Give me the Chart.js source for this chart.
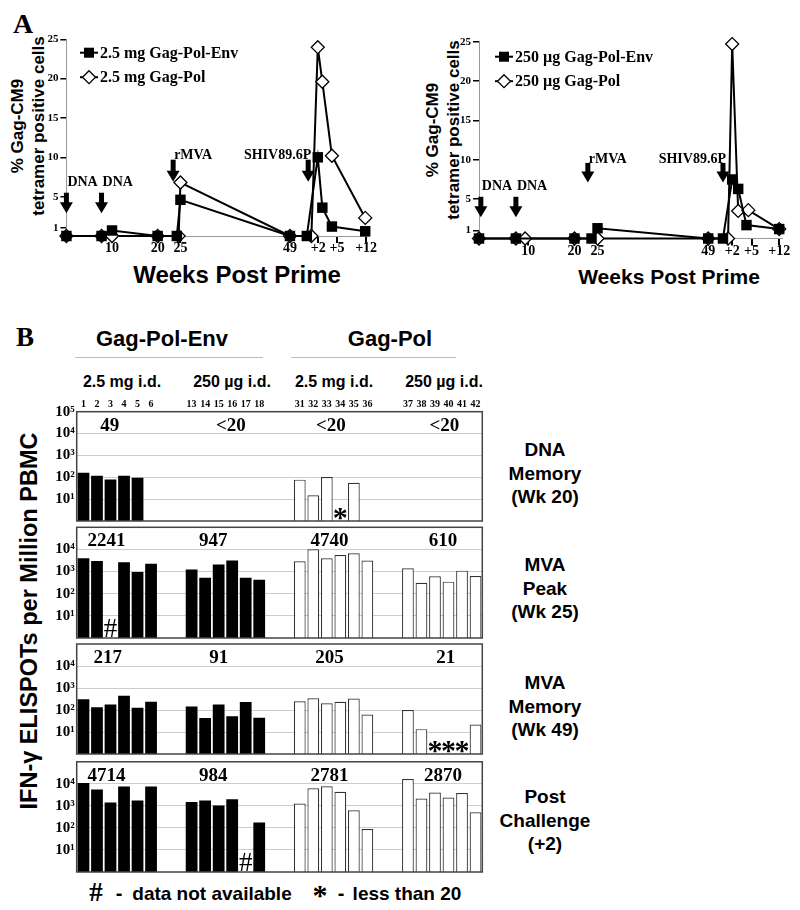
<!DOCTYPE html>
<html>
<head>
<meta charset="utf-8">
<script src="https://cdn.jsdelivr.net/npm/chart.js@4.4.0/dist/chart.umd.min.js"></script>
<style>
  body { margin: 0; background: #fff; width: 800px; height: 910px; position: relative; overflow: hidden;
         font-family: "Liberation Sans", Arial, sans-serif; }
  canvas { position: absolute; }
  .t { position: absolute; white-space: nowrap; font-weight: bold; color: #000; transform: translate(-50%, -50%); text-align: center; }
  .rot { transform: translate(-50%, -50%) rotate(-90deg); }
  .serif { font-family: "Liberation Serif", "Times New Roman", serif; }
  .rule { position: absolute; height: 0; border-top: 1px solid #bbb; }
</style>
</head>
<body>

<div class="t serif" style="left:23px;top:24px;font-size:28px">A</div>
<div class="t rot" style="left:28px;top:126px;font-size:17px;line-height:21px">% Gag-CM9<br>tetramer positive cells</div>
<div class="t rot" style="left:443px;top:130px;font-size:17px;line-height:21px">% Gag-CM9<br>tetramer positive cells</div>
<div class="t" style="left:237px;top:275px;font-size:24px">Weeks Post Prime</div>
<div class="t" style="left:669px;top:277px;font-size:21px">Weeks Post Prime</div>

<div class="t serif" style="left:25px;top:337px;font-size:27px">B</div>
<div class="t" style="left:162px;top:339px;font-size:22px">Gag-Pol-Env</div>
<div class="t" style="left:390px;top:339px;font-size:22px">Gag-Pol</div>
<div class="rule" style="left:75px;top:357px;width:188px"></div>
<div class="rule" style="left:291px;top:357px;width:165px"></div>
<div class="t" style="left:122px;top:382px;font-size:16px">2.5 mg i.d.</div>
<div class="t" style="left:232px;top:382px;font-size:16px">250 µg i.d.</div>
<div class="t" style="left:334px;top:382px;font-size:16px">2.5 mg i.d.</div>
<div class="t" style="left:444px;top:382px;font-size:16px">250 µg i.d.</div>

<div class="t rot" style="left:29px;top:621px;font-size:23.5px;line-height:24px">IFN-γ ELISPOTs per Million PBMC</div>

<div class="t" style="left:545px;top:473px;font-size:19px;line-height:23.5px">DNA<br>Memory<br>(Wk 20)</div>
<div class="t" style="left:545px;top:588px;font-size:19px;line-height:23.5px">MVA<br>Peak<br>(Wk 25)</div>
<div class="t" style="left:545px;top:706px;font-size:19px;line-height:23.5px">MVA<br>Memory<br>(Wk 49)</div>
<div class="t" style="left:545px;top:820px;font-size:19px;line-height:23.5px">Post<br>Challenge<br>(+2)</div>

<div class="t serif" style="left:96px;top:892px;font-size:27px">#</div>
<div class="t" style="left:119px;top:893px;font-size:20px">-</div>
<div class="t" style="left:212px;top:894px;font-size:19px">data not available</div>
<div class="t serif" style="left:320px;top:895px;font-size:30px">*</div>
<div class="t" style="left:341px;top:893px;font-size:20px">-</div>
<div class="t" style="left:407px;top:894px;font-size:19px">less than 20</div>

<canvas id="tetLeft" width="400" height="300" style="left:0;top:0"></canvas>
<canvas id="tetRight" width="400" height="300" style="left:400px;top:0"></canvas>
<canvas id="row1"></canvas>
<canvas id="row2"></canvas>
<canvas id="row3"></canvas>
<canvas id="row4"></canvas>

<script>
const serif = "'Liberation Serif', 'Times New Roman', serif";
const sans = "'Liberation Sans', Arial, sans-serif";

// ---- Panel A: % Gag-CM9 tetramer+ cells (x = position on the weeks axis) ----
const weekTickLabels = ['10', '20', '25', '49', '+2', '+5', '+12'];
const weekTicksLeft = [10, 20, 25, 49, 55.2, 59.3, 65.7];
const weekTicksRight = [10, 20, 25, 49, 54.2, 58.4, 64.4];
const pctTicks = [1, 5, 10, 15, 20, 25];

const envWeeksLeft = [0, 7.7, 10, 20, 24.2, 25, 49, 52.7, 55.1, 56.1, 58.2, 65.5];
const envPctLeft   = [0, 0, 0.7, 0, 0, 4.6, 0, 0, 10, 3.6, 1.2, 0.6];
const polWeeksLeft = [0, 7.7, 10, 20, 24.6, 25, 49, 53.7, 55.1, 56.1, 58.2, 65.5];
const polPctLeft   = [0, 0, 0, 0, 0, 6.8, 0, 0, 24, 19.6, 10.2, 2.3];

const envWeeksRight = [-0.7, 7.3, 20, 23.7, 25, 49, 52.2, 54.2, 55.5, 57.3, 64.4];
const envPctRight   = [0, 0, 0, 0, 1.3, 0, 0, 7.5, 6.3, 1.7, 1.2];
const polWeeksRight = [-0.7, 7.3, 9.3, 20, 25, 49, 53.3, 54.2, 55.5, 57.7, 64.4];
const polPctRight   = [0, 0, 0, 0, 0, 0, 0, 24.7, 3.5, 3.6, 1.2];

const arrowText = ['DNA', 'DNA', 'rMVA', 'SHIV89.6P'];
const arrowWeeksLeft = [0, 7.7, 23.4, 53];
const arrowWeeksRight = [-0.3, 7.3, 22.9, 52.2];

// ---- Panel B: IFN-g ELISPOTs per million PBMC ----
const animals = ['1', '2', '3', '4', '5', '6', '', '', '13', '14', '15', '16', '17', '18', '', '',
                 '31', '32', '33', '34', '35', '36', '', '', '37', '38', '39', '40', '41', '42'];
const wk20 = [160, 117, 80, 117, 96, null, null, null, null, null, null, null, null, null, null, null,
              78, 15, 103, null, 56, null, null, null, null, null, null, null, null, null];
const wk25 = [3980, 3000, null, 2650, 960, 2240, null, null, 1250, 520, 2090, 3150, 520, 425, null, null,
              2930, 10200, 4000, 5600, 6650, 3150, null, null, 1400, 315, 615, 350, 1100, 630];
const wk49 = [309, 135, 178, 450, 127, 236, null, null, 145, 43, 178, 52, 230, 44, null, null,
              250, 340, 204, 236, 330, 62, null, null, 100, 13.5, null, null, null, 22];
const post2 = [11000, 5600, 1440, 7600, 1740, 7600, null, null, 1510, 1740, 1050, 2000, null, 178, null, null,
               1290, 6330, 7800, 4370, 630, 90, null, null, 16600, 2150, 4000, 2400, 3800, 510];

const wk20Means = ['49', '<20', '<20', '<20'];
const wk25Means = ['2241', '947', '4740', '610'];
const wk49Means = ['217', '91', '205', '21'];
const post2Means = ['4714', '984', '2781', '2870'];

const wk20Marks = [{slot: 19, text: '*'}];
const wk25Marks = [{slot: 2, text: '#'}];
const wk49Marks = [{slot: 26, text: '*'}, {slot: 27, text: '*'}, {slot: 28, text: '*'}];
const post2Marks = [{slot: 12, text: '#'}];

const sup = {1: '\u00b9', 2: '\u00b2', 3: '\u00b3', 4: '\u2074', 5: '\u2075'};

// arrows, labels and legend for the tetramer charts
const tetNotes = {
  id: 'tetNotes',
  afterDatasetsDraw(chart, args, o) {
    const {ctx, scales: {x, y}} = chart;
    ctx.save();
    ctx.fillStyle = '#000';
    o.arrowWeeks.forEach((w, i) => {
      const px = x.getPixelForValue(w);
      const top = y.getPixelForValue(o.arrowTop[i]);
      const tip = y.getPixelForValue(o.arrowTip[i]);
      ctx.fillRect(px - 2.5, top, 5, tip - top - 9);
      ctx.beginPath();
      ctx.moveTo(px - 6.5, tip - 11);
      ctx.lineTo(px + 6.5, tip - 11);
      ctx.lineTo(px, tip);
      ctx.closePath();
      ctx.fill();
      ctx.font = 'bold 14px ' + serif;
      ctx.textBaseline = 'bottom';
      ctx.textAlign = i === 3 ? 'right' : 'left';
      ctx.fillText(arrowText[i], i === 3 ? px + 3 : px + 1, top - (i < 2 ? 3 : -3));
    });

    chart.data.datasets.forEach((ds, i) => {
      const lx = o.legendX, ly = o.legendY + i * 24.5;
      ctx.strokeStyle = '#000';
      ctx.lineWidth = 2;
      ctx.beginPath();
      ctx.moveTo(lx, ly);
      ctx.lineTo(lx + 18, ly);
      ctx.stroke();
      ctx.lineWidth = 1.3;
      if (ds.pointStyle === 'rect') {
        ctx.fillRect(lx + 4, ly - 5, 10, 10);
      } else {
        ctx.fillStyle = '#fff';
        ctx.beginPath();
        ctx.moveTo(lx + 9, ly - 6.5); ctx.lineTo(lx + 15.5, ly);
        ctx.lineTo(lx + 9, ly + 6.5); ctx.lineTo(lx + 2.5, ly);
        ctx.closePath(); ctx.fill(); ctx.stroke();
        ctx.fillStyle = '#000';
      }
      ctx.font = 'bold 16px ' + serif;
      ctx.textAlign = 'left';
      ctx.textBaseline = 'middle';
      ctx.fillText(ds.label, lx + 20, ly + 1);
    });
    ctx.restore();
  }
};

function tetChart(id, env, pol, o) {
  return new Chart(document.getElementById(id), {
    type: 'line',
    data: {
      datasets: [
        { label: o.envLabel, data: env.x.map((w, i) => ({x: w, y: env.y[i]})),
          borderColor: '#000', borderWidth: 2, pointStyle: 'rect', pointRadius: 7.4,
          pointBackgroundColor: '#000', pointBorderColor: '#000', pointBorderWidth: 0, clip: false },
        { label: o.polLabel, data: pol.x.map((w, i) => ({x: w, y: pol.y[i]})),
          borderColor: '#000', borderWidth: 2, pointStyle: 'rectRot', pointRadius: 6.5,
          pointBackgroundColor: '#fff', pointBorderColor: '#000', pointBorderWidth: 1.3, clip: false }
      ]
    },
    options: {
      responsive: false,
      animation: false,
      layout: { padding: { left: 0, top: o.top, right: o.right, bottom: o.bottom } },
      plugins: {
        legend: { display: false },
        tooltip: { enabled: false },
        tetNotes: { arrowWeeks: o.arrowWeeks, arrowTop: o.arrowTop, arrowTip: o.arrowTip,
                    legendX: o.legendX, legendY: o.legendY }
      },
      scales: {
        x: {
          type: 'linear', min: o.xMin, max: o.xMax,
          afterBuildTicks: (s) => { s.ticks = o.weekTicks.map(v => ({value: v})); },
          afterFit: (s) => { s.height = 30; },
          grid: { drawOnChartArea: false, drawTicks: true, tickLength: 7, color: '#000', lineWidth: 2 },
          border: { color: '#999', width: 1 },
          ticks: { autoSkip: false, maxRotation: 0, padding: -3, color: '#000',
                   font: { family: serif, weight: 'bold', size: 14 },
                   callback: (v, i) => weekTickLabels[i] }
        },
        y: {
          min: 0, max: 25,
          afterBuildTicks: (s) => { s.ticks = pctTicks.map(v => ({value: v})); },
          afterFit: (s) => { s.width = o.left; },
          grid: { drawOnChartArea: false, drawTicks: true, tickLength: 6, color: '#000', lineWidth: 1.5 },
          border: { color: '#999', width: 1 },
          ticks: { padding: 2, color: '#000', font: { family: serif, weight: 'bold', size: 11 } }
        }
      }
    },
    plugins: [tetNotes]
  });
}

tetChart('tetLeft', {x: envWeeksLeft, y: envPctLeft}, {x: polWeeksLeft, y: polPctLeft}, {
  envLabel: '2.5 mg Gag-Pol-Env', polLabel: '2.5 mg Gag-Pol',
  left: 66.4, top: 39.3, right: 32.5, bottom: 34, xMin: 0, xMax: 66,
  weekTicks: weekTicksLeft, arrowWeeks: arrowWeeksLeft,
  arrowTop: [5.5, 5.5, 9.7, 9.7], arrowTip: [2.9, 2.9, 6.9, 6.9],
  legendX: 80, legendY: 52.7
});

tetChart('tetRight', {x: envWeeksRight, y: envPctRight}, {x: polWeeksRight, y: polPctRight}, {
  envLabel: '250 \u00b5g Gag-Pol-Env', polLabel: '250 \u00b5g Gag-Pol',
  left: 79, top: 41.7, right: 18, bottom: 31.5, xMin: -0.7, xMax: 65,
  weekTicks: weekTicksRight, arrowWeeks: arrowWeeksRight,
  arrowTop: [5.3, 5.3, 9.6, 9.6], arrowTip: [2.7, 2.7, 7.1, 7.1],
  legendX: 95, legendY: 56.7
});

// frame, group means and symbols for the ELISPOT rows
const rowNotes = {
  id: 'rowNotes',
  afterDraw(chart, args, o) {
    const {ctx, chartArea: a, scales: {x}} = chart;
    ctx.save();
    ctx.strokeStyle = '#444';
    ctx.lineWidth = 1.5;
    ctx.strokeRect(a.left, a.top, a.right - a.left, a.bottom - a.top);
    ctx.fillStyle = '#000';
    ctx.font = 'bold 19px ' + serif;
    ctx.textAlign = 'center';
    ctx.textBaseline = 'middle';
    o.means.forEach((t, i) => ctx.fillText(t, x.getPixelForValue(o.meanSlots[i]), a.top + 14));
    ctx.textBaseline = 'alphabetic';
    o.marks.forEach(m => {
      const hash = m.text === '#';
      ctx.font = hash ? '27px ' + serif : 'bold 30px ' + serif;
      const mt = ctx.measureText(m.text);
      const cy = a.bottom - (hash ? 10 : 7.5);
      ctx.fillText(m.text, x.getPixelForValue(m.slot), cy + (mt.actualBoundingBoxAscent - mt.actualBoundingBoxDescent) / 2);
    });
    ctx.restore();
  }
};

function elispotRow(id, values, means, marks, box, first, meanSlots) {
  const cv = document.getElementById(id);
  const top = Math.floor(box[0]) - 24;
  const height = Math.ceil(box[1]) + 8 - top;
  cv.width = 500; cv.height = height;
  cv.style.left = '0px'; cv.style.top = top + 'px';
  const decades = first ? [10, 100, 1000, 10000, 100000] : [10, 100, 1000, 10000];
  return new Chart(cv, {
    type: 'bar',
    data: {
      labels: animals,
      datasets: [{
        data: values,
        backgroundColor: values.map((v, i) => i < 16 ? '#000' : '#fff'),
        borderColor: '#333',
        borderWidth: values.map((v, i) => i < 16 ? 0 : 1.2),
        barPercentage: 0.87,
        categoryPercentage: 1.0
      }]
    },
    options: {
      responsive: false,
      animation: false,
      // the (possibly hidden) top x axis takes the space above the frame
      layout: { padding: { left: 0, right: 17.7, top: 0, bottom: height - (box[1] - top) } },
      plugins: {
        legend: { display: false },
        tooltip: { enabled: false },
        rowNotes: { means: means, marks: marks, meanSlots: meanSlots }
      },
      scales: {
        x: {
          type: 'category', position: 'top', display: first, offset: true,
          afterFit: (s) => { s.height = box[0] - top; },
          grid: { display: false, drawTicks: false },
          border: { display: false },
          ticks: { autoSkip: false, maxRotation: 0, padding: 1, color: '#000',
                   font: { family: serif, weight: 'bold', size: 10 } }
        },
        y: {
          type: 'logarithmic', min: 1, max: 100000,
          afterBuildTicks: (s) => { s.ticks = decades.map(v => ({value: v})); },
          afterFit: (s) => { s.width = 76.7; },
          grid: { color: '#cdcdcd', lineWidth: 1, drawTicks: false },
          border: { display: false },
          ticks: { padding: 2, color: '#000', font: { family: serif, weight: 'bold', size: 15 },
                   callback: (v) => '10' + sup[Math.round(Math.log10(v))] }
        }
      }
    },
    plugins: [rowNotes]
  });
}

elispotRow('row1', wk20, wk20Means, wk20Marks, [411.7, 524], true, [1.95, 10.9, 18.3, 26.7]);
elispotRow('row2', wk25, wk25Means, wk25Marks, [527.3, 640.7], false, [1.7, 9.6, 18.2, 26.6]);
elispotRow('row3', wk49, wk49Means, wk49Marks, [644, 756.7], false, [1.8, 10.0, 18.2, 26.8]);
elispotRow('row4', post2, post2Means, post2Marks, [761.8, 874.3], false, [1.7, 9.6, 18.2, 26.6]);
</script>
</body>
</html>
